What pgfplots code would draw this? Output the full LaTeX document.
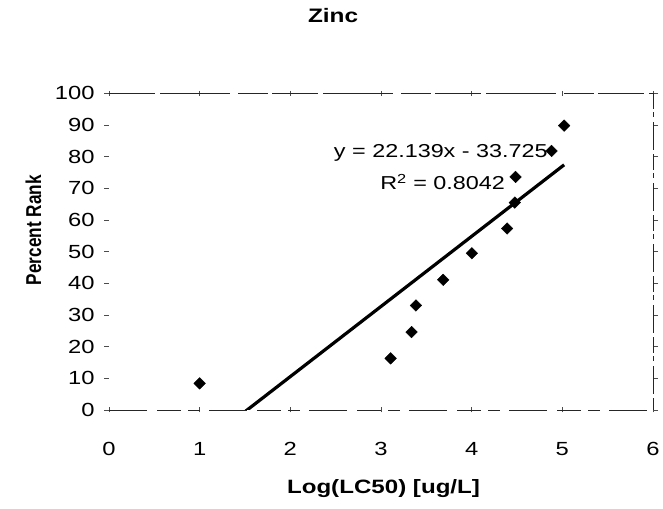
\documentclass[border=0pt]{standalone}
\usepackage{graphicx}
\usepackage{fontspec}
\setmainfont[FakeStretch=1.25]{Liberation Sans}
\newfontfamily\plainsans{Liberation Sans}
\usepackage{pgfplots}
\pgfplotsset{compat=1.18}

\begin{document}
\begin{tikzpicture}
\useasboundingbox (0,0) rectangle (663pt,508pt);
\begin{axis}[
  name=ax,
  at={(109pt,98pt)}, anchor=south west,
  scale only axis, width=544pt, height=316.7pt,
  xmin=0, xmax=6, ymin=0, ymax=100,
  xtick={0,1,...,6}, ytick={0,10,...,100},
  axis line style={draw=none},
  /pgf/number format/assume math mode=true,
  tick label style={font=\fontsize{19}{22}\selectfont},
  ytick align=outside, xtick align=center,
  major tick length=5pt,
  tick style={black!70, line width=0.6pt},
  yticklabel style={xshift=-6pt},
  xticklabel style={anchor=base, yshift=-43pt},
  title={Zinc},
  title style={font=\bfseries\fontsize{19.5}{23}\selectfont, at={(rel axis cs:0.412,1.206)}, anchor=base},
  xlabel={Log(LC50) [ug/L]},
  xlabel style={font=\bfseries\fontsize{19.3}{23}\selectfont, at={(rel axis cs:0.5046,-0.265)}, anchor=base},
  ylabel={\scalebox{1}[1.25]{\plainsans\bfseries\fontsize{17.2}{20}\selectfont Percent Rank}},
  ylabel style={at={(rel axis cs:-0.139,0.568)}, anchor=center},
]
% linear trend over the data range: y = 22.139x - 33.725
\addplot[black, line width=3.2pt, no marks] coordinates {(1,-11.586) (5.02,77.413)};
% ranked toxicity values
\addplot[only marks, mark=square*, mark size=4.1pt, mark options={rotate=45, black}] coordinates {
  (1.00,8.4) (3.106,16.3) (3.337,24.6) (3.385,33.0) (3.686,41.1) (4.002,49.5)
  (4.391,57.3) (4.476,65.5) (4.484,73.6) (4.881,81.8) (5.020,89.8)
};
\node[font=\fontsize{18.7}{22}\selectfont, anchor=base] at (axis cs:3.66,79.6) {y = 22.139x - 33.725};
\node[font=\fontsize{18.7}{22}\selectfont, anchor=base] at (axis cs:3.68,69.5) {R\textsuperscript{2} = 0.8042};
\end{axis}
% plot area frame
\draw[black!85, line width=1.1pt, dash pattern=on 46pt off 5pt on 70pt off 8pt on 30pt off 4pt] (ax.north west) -- (ax.north east);
\draw[black!85, line width=0.7pt, dash pattern=on 16pt off 3pt on 5pt off 5pt on 28pt off 4pt] (ax.north east) -- (ax.south east);
\draw[black!85, line width=0.9pt, dash pattern=on 38pt off 10pt on 24pt off 7pt on 12pt off 9pt] (ax.south west) -- (ax.south east);
\end{tikzpicture}
\end{document}
